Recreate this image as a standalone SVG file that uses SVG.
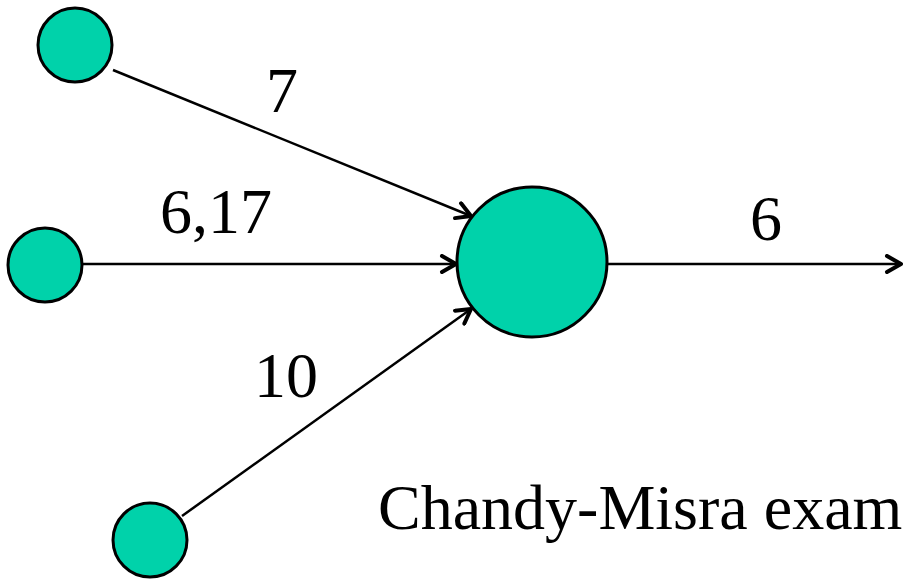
<svg xmlns="http://www.w3.org/2000/svg" width="903" height="579" viewBox="0 0 903 579">
<style>
.node{fill:#00d2aa;stroke:#000;stroke-width:3}
.edge{stroke:#000;stroke-width:2.5;fill:none}
.lbl{font-family:"Liberation Serif","Times New Roman",serif;font-size:64px;fill:#000}
</style>
<defs>
<marker id="ah" viewBox="0 0 20 20" refX="17" refY="10" markerWidth="20" markerHeight="20" markerUnits="userSpaceOnUse" orient="auto">
<path d="M3,2 L17,10 L3,18" fill="none" stroke="#000" stroke-width="4" stroke-linecap="round" stroke-linejoin="round"/>
</marker>
</defs>
<rect width="903" height="579" fill="#fff"/>
<g id="connectors">
<line class="edge" x1="113" y1="70" x2="471" y2="216" marker-end="url(#ah)"/>
<line class="edge" x1="83" y1="264" x2="456" y2="264" marker-end="url(#ah)"/>
<line class="edge" x1="182" y1="516" x2="471" y2="309" marker-end="url(#ah)"/>
<line class="edge" x1="608" y1="264" x2="901" y2="264" marker-end="url(#ah)"/>
</g>
<g id="n1"><circle class="node" cx="75" cy="45" r="37"/></g>
<g id="n2"><circle class="node" cx="45" cy="265" r="37"/></g>
<g id="n3"><circle class="node" cx="150" cy="540" r="37"/></g>
<g id="n4"><circle class="node" cx="532" cy="262" r="75"/></g>
<g id="labels">
<text class="lbl" x="266" y="112">7</text>
<text class="lbl" x="160" y="233">6,17</text>
<text class="lbl" x="254" y="397">10</text>
<text class="lbl" x="750" y="240">6</text>
<text class="lbl" x="378" y="529">Chandy-Misra exam</text>
</g>
</svg>
